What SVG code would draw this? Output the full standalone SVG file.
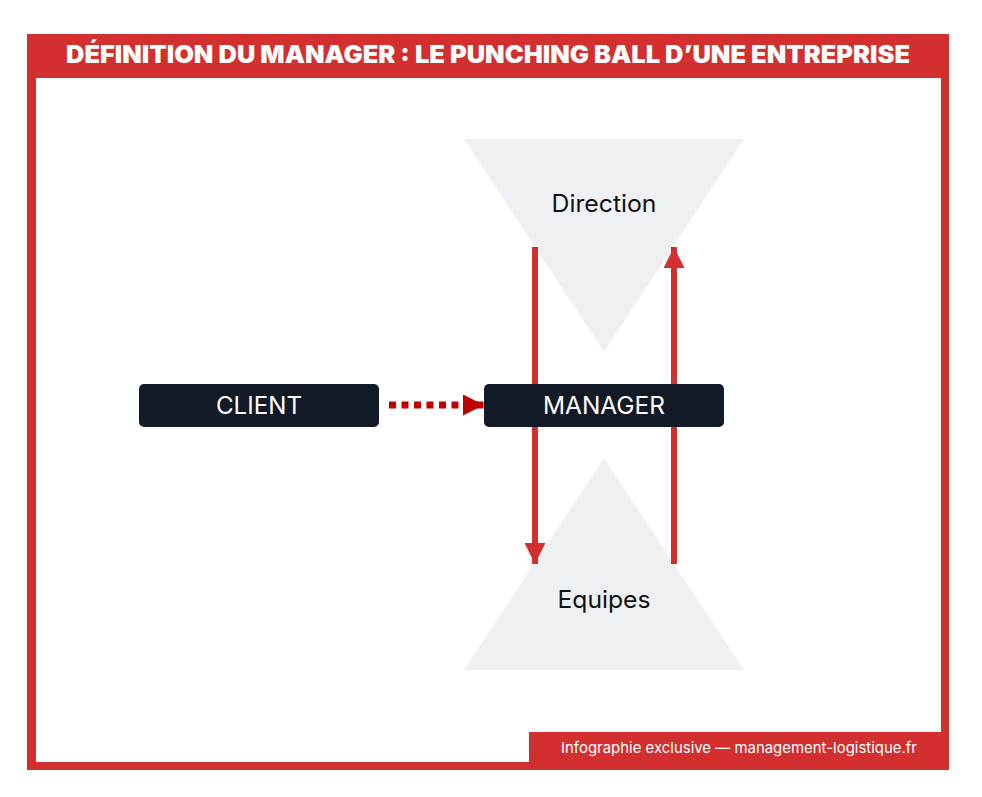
<svg xmlns="http://www.w3.org/2000/svg" width="982" height="797" viewBox="0 0 982 797">
<defs>
<style>
.tri{fill:#eff0f4}
.box{fill:#121a27}
.lbl{font-family:Inter,"Liberation Sans",sans-serif;font-size:24px;fill:#111;text-anchor:middle}
.btxt{font-family:Inter,"Liberation Sans",sans-serif;font-size:24.5px;fill:#fff;text-anchor:middle}
.flow{stroke:#d32f2f;stroke-width:6;fill:none}
</style>
<marker id="head" viewBox="0 0 10 10" refX="10" refY="5" markerWidth="3.5" markerHeight="3.5" markerUnits="strokeWidth" orient="auto"><path d="M0,0 L10,5 L0,10 z" fill="#d32f2f"/></marker>
<marker id="headDark" viewBox="0 0 10 10" refX="10" refY="5" markerWidth="3.4" markerHeight="3" markerUnits="strokeWidth" orient="auto"><path d="M0,0 L10,5 L0,10 z" fill="#c00000"/></marker>
</defs>
<rect x="0" y="0" width="982" height="797" fill="#fff"/>
<g id="frame">
<rect x="27" y="34" width="922" height="736" fill="#d32f2f"/>
<rect x="36" y="78" width="905" height="684" fill="#fff"/>
<rect x="529" y="732" width="420" height="38" fill="#d32f2f"/>
<text x="488" y="63" font-family="Inter,'Liberation Sans',sans-serif" font-weight="900" font-size="24" fill="#fff" text-anchor="middle" textLength="844" lengthAdjust="spacingAndGlyphs">DÉFINITION DU MANAGER : LE PUNCHING BALL D’UNE ENTREPRISE</text>
<text x="739" y="753" font-family="Inter,'Liberation Sans',sans-serif" font-size="15" fill="#fff" text-anchor="middle" textLength="356" lengthAdjust="spacingAndGlyphs">Infographie exclusive — management-logistique.fr</text>
</g>
<g id="direction">
<polygon class="tri" points="464,139 744,139 604,352"/>
<text class="lbl" x="604" y="212" textLength="105" lengthAdjust="spacingAndGlyphs">Direction</text>
</g>
<g id="equipes">
<polygon class="tri" points="604,458 744,670 464,670"/>
<text class="lbl" x="604" y="608" textLength="93" lengthAdjust="spacingAndGlyphs">Equipes</text>
</g>
<g id="connectors">
<line class="flow" x1="535" y1="247" x2="535" y2="564" marker-end="url(#head)"/>
<line class="flow" x1="674" y1="564" x2="674" y2="247" marker-end="url(#head)"/>
<line x1="389" y1="405" x2="484" y2="405" stroke="#c00000" stroke-width="7" stroke-dasharray="7 5.5" marker-end="url(#headDark)"/>
</g>
<g id="client">
<rect class="box" x="139" y="384" width="240" height="43" rx="5"/>
<text class="btxt" x="259" y="414" textLength="86" lengthAdjust="spacingAndGlyphs">CLIENT</text>
</g>
<g id="manager">
<rect class="box" x="484" y="384" width="240" height="43" rx="5"/>
<text class="btxt" x="604" y="414" textLength="122" lengthAdjust="spacingAndGlyphs">MANAGER</text>
</g>
</svg>
